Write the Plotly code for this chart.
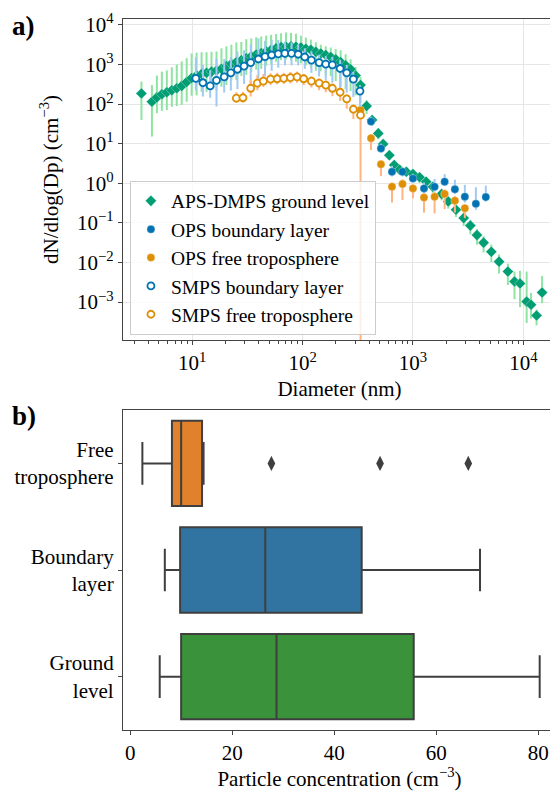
import numpy as np
import plotly.graph_objects as go
from plotly.subplots import make_subplots

# ---- panel a) size distributions, values read as log10(Dp [nm]) and log10(dN/dlogDp) ----
# APS-DMPS ground level (DMPS part then APS part)
gl_log_dp = [0.54, 0.635, 0.68, 0.725, 0.77, 0.815, 0.86, 0.905, 0.95, 0.995,
             1.04, 1.085, 1.13, 1.175, 1.22, 1.265, 1.31, 1.355, 1.40, 1.445,
             1.49, 1.535, 1.58, 1.625, 1.67, 1.715, 1.76, 1.805, 1.85, 1.895,
             1.94, 1.985, 2.03, 2.075, 2.12, 2.165, 2.21, 2.255, 2.30, 2.345,
             2.39, 2.435, 2.48, 2.525,
             2.58, 2.63, 2.686, 2.73, 2.786, 2.83, 2.88, 2.94, 3.00, 3.06,
             3.12, 3.18, 3.26, 3.32, 3.39, 3.46, 3.52, 3.58, 3.64, 3.71,
             3.78, 3.86, 3.92, 3.97, 4.03, 4.07, 4.12, 4.17]
gl_log_n = [2.27, 2.06, 2.17, 2.25, 2.30, 2.35, 2.40, 2.46, 2.56, 2.66,
            2.72, 2.76, 2.79, 2.82, 2.85, 2.89, 2.96, 3.02, 3.06, 3.11,
            3.16, 3.21, 3.25, 3.29, 3.33, 3.37, 3.41, 3.44, 3.45, 3.46,
            3.45, 3.43, 3.40, 3.37, 3.32, 3.28, 3.24, 3.19, 3.13, 3.06,
            2.98, 2.88, 2.72, 2.48,
            1.95, 1.60, 1.26, 0.99, 0.71, 0.46, 0.34, 0.29, 0.235, 0.15,
            0.04, -0.09, -0.27, -0.46, -0.67, -0.88, -1.07, -1.31, -1.50, -1.73,
            -1.98, -2.23, -2.48, -2.53, -2.99, -3.07, -3.34, -2.76]
gl_err_up = [0.30, 0.42, 0.55, 0.57, 0.55, 0.58, 0.60, 0.62, 0.60, 0.62,
             0.58, 0.55, 0.52, 0.50, 0.48, 0.52, 0.50, 0.48, 0.50, 0.46,
             0.48, 0.45, 0.44, 0.42, 0.40, 0.38, 0.36, 0.35, 0.36, 0.34,
             0.33, 0.30, 0.28, 0.26, 0.24, 0.22, 0.22, 0.24, 0.26, 0.30,
             0.28, 0.25, 0.22, 0.20,
             0.15, 0.12, 0.12, 0.10, 0.10, 0.10, 0.08, 0.08, 0.08, 0.10,
             0.10, 0.10, 0.12, 0.12, 0.12, 0.14, 0.15, 0.15, 0.16, 0.18,
             0.18, 0.20, 0.25, 0.32, 0.76, 0.30, 0.15, 0.42]
gl_err_dn = [0.67, 0.88, 0.40, 0.42, 0.45, 0.42, 0.45, 0.48, 0.50, 0.45,
             0.50, 0.45, 0.48, 0.45, 0.50, 0.45, 0.48, 0.42, 0.45, 0.40,
             0.42, 0.40, 0.38, 0.40, 0.36, 0.35, 0.34, 0.33, 0.32, 0.35,
             0.38, 0.40, 0.42, 0.45, 0.48, 0.45, 0.50, 0.48, 0.55, 0.62,
             0.60, 0.55, 0.50, 0.45,
             0.20, 0.15, 0.15, 0.12, 0.12, 0.15, 0.12, 0.10, 0.12, 0.14,
             0.15, 0.15, 0.16, 0.18, 0.18, 0.20, 0.22, 0.24, 0.25, 0.26,
             0.30, 0.34, 0.45, 0.60, 0.54, 0.35, 0.25, 0.27]

# OPS boundary layer
opsbl_log_dp = [2.62, 2.71, 2.81, 2.905, 3.00, 3.10, 3.196, 3.287, 3.38, 3.47, 3.57, 3.66]
opsbl_log_n = [1.56, 0.88, 0.29, 0.29, 0.12, -0.13, -0.09, 0.04, -0.15, -0.34, -0.52, -0.35]
opsbl_err_up = [0.12, 0.12, 0.15, 0.12, 0.12, 0.15, 0.20, 0.19, 0.24, 0.30, 0.42, 0.29]
opsbl_err_dn = [0.10, 0.10, 0.12, 0.12, 0.10, 0.12, 0.12, 0.10, 0.12, 0.15, 0.15, 0.12]

# OPS free troposphere
opsft_log_dp = [2.525, 2.62, 2.71, 2.81, 2.905, 3.00, 3.10, 3.196, 3.287, 3.38, 3.47]
opsft_log_n = [1.85, 1.14, 0.48, -0.085, -0.02, -0.13, -0.36, -0.34, -0.27, -0.44, -0.63]
opsft_err_up = [0.08, 0.10, 0.10, 0.10, 0.12, 0.10, 0.10, 0.12, 0.12, 0.12, 0.10]
opsft_err_dn = [0.10, 0.30, 0.30, 0.40, 0.40, 0.25, 0.38, 0.42, 0.38, 0.30, 0.25]

# SMPS boundary layer
smpsbl_log_dp = [1.033, 1.097, 1.163, 1.22, 1.29, 1.35, 1.41, 1.47, 1.53, 1.60, 1.66, 1.72, 1.78,
                 1.84, 1.90, 1.96, 2.02, 2.08, 2.15, 2.21, 2.27, 2.34, 2.40, 2.46, 2.52]
smpsbl_log_n = [2.65, 2.54, 2.46, 2.60, 2.69, 2.79, 2.88, 2.96, 3.05, 3.14, 3.20, 3.24, 3.27,
                3.28, 3.28, 3.26, 3.19, 3.11, 3.05, 3.01, 2.99, 2.90, 2.79, 2.63, 2.33]
smpsbl_err_up = [0.53, 0.45, 0.40, 0.55, 0.45, 0.40, 0.45, 0.40, 0.45, 0.52, 0.40, 0.38, 0.35,
                 0.30, 0.28, 0.25, 0.22, 0.22, 0.20, 0.20, 0.20, 0.22, 0.20, 0.18, 0.15]
smpsbl_err_dn = [0.30, 0.35, 0.30, 0.66, 0.40, 0.45, 0.50, 0.45, 0.55, 0.74, 0.50, 0.40, 0.35,
                 0.30, 0.30, 0.28, 0.30, 0.32, 0.35, 0.40, 0.45, 0.55, 0.50, 0.45, 0.40]

# SMPS free troposphere (last lower bar runs off the bottom of the axis)
smpsft_log_dp = [1.40, 1.46, 1.53, 1.59, 1.645, 1.71, 1.77, 1.83, 1.89, 1.95,
                 2.01, 2.08, 2.15, 2.21, 2.27, 2.34, 2.40, 2.46, 2.525]
smpsft_log_n = [2.15, 2.16, 2.40, 2.53, 2.58, 2.63, 2.64, 2.65, 2.67, 2.69,
                2.64, 2.58, 2.53, 2.48, 2.40, 2.30, 2.13, 1.87, 1.72]
smpsft_err_up = [0.15, 0.15, 0.21, 0.20, 0.18, 0.15, 0.15, 0.14, 0.14, 0.13,
                 0.12, 0.12, 0.12, 0.12, 0.12, 0.12, 0.12, 0.12, 0.10]
smpsft_err_dn = [0.12, 0.12, 0.21, 0.18, 0.15, 0.15, 0.14, 0.14, 0.15, 0.15,
                 0.16, 0.16, 0.18, 0.18, 0.20, 0.22, 0.25, 0.25, 10.0]

x_tickvals = [10, 100, 1000, 10000]
x_ticktext = ["10<sup>1</sup>", "10<sup>2</sup>", "10<sup>3</sup>", "10<sup>4</sup>"]
y_tickvals = [1e-3, 1e-2, 1e-1, 1, 10, 100, 1000, 10000]
y_ticktext = ["10<sup>\u22123</sup>", "10<sup>\u22122</sup>", "10<sup>\u22121</sup>", "10<sup>0</sup>",
              "10<sup>1</sup>", "10<sup>2</sup>", "10<sup>3</sup>", "10<sup>4</sup>"]

# ---- panel b) box plot statistics (cm-3) ----
groups = ["Free<br>troposphere", "Boundary<br>layer", "Ground<br>level"]
lower_whisker = [2.4, 6.8, 5.8]
q1 = [8.2, 9.8, 10.0]
median = [10.0, 26.5, 28.7]
q3 = [14.1, 45.4, 55.6]
upper_whisker = [14.4, 68.6, 80.3]
ft_outliers = [27.7, 49.0, 66.3]

GREEN, BLUE, ORANGE = "#029E73", "#0173B2", "#DE8F05"
GREEN_L, BLUE_L, ORANGE_L = "#8DE5A1", "#A1C9F4", "#FFB482"
BOX_COLORS = ["#E1812C", "#3274A1", "#3A923A"]
EDGE = "#3F3F3F"
FONT = "Liberation Serif"
FS = 21


def serif(size):
    return dict(family=FONT, size=size, color="black")


def dist_trace(log_dp, log_n, err_up, err_dn, name, color, light, symbol, size, hollow=False):
    log_n = np.array(log_n)
    y = 10 ** log_n
    up = 10 ** (log_n + np.array(err_up)) - y
    dn = y - 10 ** (log_n - np.array(err_dn))
    marker = dict(symbol=symbol, size=size, color="white" if hollow else color,
                  line=dict(color=color if hollow else "rgba(255,255,255,0.5)",
                            width=1.8 if hollow else 0.6))
    return go.Scatter(
        x=10 ** np.array(log_dp), y=y, mode="markers", name=name, marker=marker,
        error_y=dict(type="data", symmetric=False, array=up, arrayminus=dn,
                     color=light, thickness=2, width=0),
    )


fig = make_subplots(rows=2, cols=1)

fig.add_trace(dist_trace(gl_log_dp, gl_log_n, gl_err_up, gl_err_dn, "APS-DMPS ground level",
                         GREEN, GREEN_L, "diamond", 8.5), row=1, col=1)
fig.add_trace(dist_trace(opsbl_log_dp, opsbl_log_n, opsbl_err_up, opsbl_err_dn, "OPS boundary layer",
                         BLUE, BLUE_L, "circle", 8), row=1, col=1)
fig.add_trace(dist_trace(opsft_log_dp, opsft_log_n, opsft_err_up, opsft_err_dn, "OPS free troposphere",
                         ORANGE, ORANGE_L, "circle", 8), row=1, col=1)
fig.add_trace(dist_trace(smpsbl_log_dp, smpsbl_log_n, smpsbl_err_up, smpsbl_err_dn, "SMPS boundary layer",
                         BLUE, BLUE_L, "circle", 7, hollow=True), row=1, col=1)
fig.add_trace(dist_trace(smpsft_log_dp, smpsft_log_n, smpsft_err_up, smpsft_err_dn, "SMPS free troposphere",
                         ORANGE, ORANGE_L, "circle", 7, hollow=True), row=1, col=1)

for i, g in enumerate(groups):
    fig.add_trace(go.Box(
        y=[g], q1=[q1[i]], median=[median[i]], q3=[q3[i]],
        lowerfence=[lower_whisker[i]], upperfence=[upper_whisker[i]],
        orientation="h", fillcolor=BOX_COLORS[i], line=dict(color=EDGE, width=2),
        width=0.8, whiskerwidth=0.5, boxpoints=False, showlegend=False,
    ), row=2, col=1)

fig.add_trace(go.Scatter(
    x=ft_outliers, y=[groups[0]] * len(ft_outliers), mode="markers", showlegend=False,
    marker=dict(symbol="diamond-tall", size=11, color=EDGE),
), row=2, col=1)

axis_common = dict(showline=True, mirror=True, linecolor="#444444", linewidth=1.3,
                   ticks="outside", ticklen=4, tickcolor="#444444",
                   tickfont=serif(FS), zeroline=False)

fig.update_xaxes(type="log", range=[0.373, 4.296], tickvals=x_tickvals, ticktext=x_ticktext,
                 showgrid=True, gridcolor="#E6E6E6", gridwidth=1,
                 minor=dict(ticks="outside", ticklen=2.5, tickcolor="#444444", dtick="D1", showgrid=False),
                 title=dict(text="Diameter (nm)", font=serif(FS), standoff=6),
                 row=1, col=1, **axis_common)
fig.update_yaxes(type="log", range=[-3.96, 4.15], tickvals=y_tickvals, ticktext=y_ticktext,
                 showgrid=True, gridcolor="#E6E6E6", gridwidth=1,
                 title=dict(text="dN/dlog(Dp) (cm<sup>\u22123</sup>)", font=serif(FS), standoff=12),
                 domain=[0.5485, 1.0], row=1, col=1, **axis_common)
fig.update_xaxes(range=[-1.4, 83.5], tickvals=[0, 20, 40, 60, 80], showgrid=False,
                 title=dict(text="Particle concentration (cm<sup>\u22123</sup>)", font=serif(FS), standoff=6),
                 row=2, col=1, **axis_common)
fig.update_yaxes(type="category", categoryorder="array", categoryarray=groups, range=[2.5, -0.5],
                 showgrid=False, domain=[0.0, 0.450], row=2, col=1, **axis_common)

# the page body adds an 8px offset, so the figure is 8px smaller than the window
fig.update_layout(
    width=550, height=783,
    margin=dict(l=115, r=2, t=11, b=61),
    paper_bgcolor="white", plot_bgcolor="white",
    font=serif(FS),
    legend=dict(x=0.016, y=0.556, xanchor="left", yanchor="bottom",
                bgcolor="rgba(255,255,255,0.8)", bordercolor="#CCCCCC", borderwidth=1,
                font=serif(19.5), itemwidth=30, tracegroupgap=0),
    annotations=[
        dict(text="<b>a)</b>", xref="paper", yref="paper", x=-0.262, y=0.99,
             xanchor="left", yanchor="middle", showarrow=False, font=serif(27)),
        dict(text="<b>b)</b>", xref="paper", yref="paper", x=-0.262, y=0.442,
             xanchor="left", yanchor="middle", showarrow=False, font=serif(27)),
    ],
)

fig.write_html("out.html")
